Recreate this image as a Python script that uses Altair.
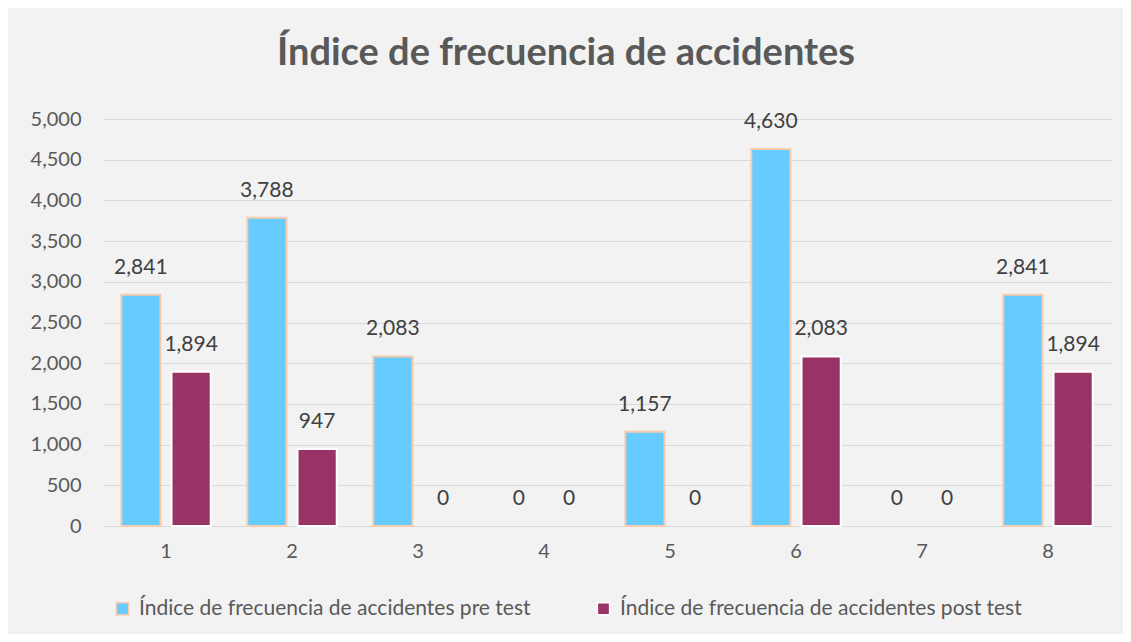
import altair as alt
import pandas as pd

categories = ["1", "2", "3", "4", "5", "6", "7", "8"]
pre_test = [2841, 3788, 2083, 0, 1157, 4630, 0, 2841]
post_test = [1894, 947, 0, 0, 0, 2083, 0, 1894]
series_names = ["Índice de frecuencia de accidentes pre test",
                "Índice de frecuencia de accidentes post test"]

rows = []
for c, a, b in zip(categories, pre_test, post_test):
    rows.append({"cat": c, "serie": series_names[0], "valor": a})
    rows.append({"cat": c, "serie": series_names[1], "valor": b})
df = pd.DataFrame(rows)

FONT = "Lato"
FS = 20
x = alt.X("cat:N", sort=categories, title=None,
          scale=alt.Scale(paddingInner=0.29, paddingOuter=0.145),
          axis=alt.Axis(labelAngle=0, labelFontSize=FS, labelColor="#595959",
                        labelFont=FONT, domainColor="#D9D9D9", ticks=False,
                        labelPadding=15, grid=False))
xoff = alt.XOffset("serie:N", sort=series_names,
                   scale=alt.Scale(paddingInner=0.22))
y = alt.Y("valor:Q", title=None,
          scale=alt.Scale(domain=[0, 5000]),
          axis=alt.Axis(values=list(range(0, 5001, 500)), format=",.0f",
                        labelFontSize=FS, labelColor="#595959", labelFont=FONT,
                        domain=False, ticks=False, labelPadding=22,
                        gridColor="#D9D9D9", gridWidth=1))
color = alt.Color("serie:N", sort=series_names,
                  scale=alt.Scale(domain=series_names, range=["#66CCFF", "#993366"]),
                  legend=alt.Legend(title=None, orient="none", direction="horizontal",
                                    legendX=9, legendY=479, symbolType="square",
                                    symbolSize=150, labelFontSize=21, labelFont=FONT,
                                    labelColor="#595959", columnPadding=62,
                                    labelOffset=6, symbolStrokeWidth=1.5,
                                    labelLimit=600))
stroke = alt.Stroke("serie:N", sort=series_names,
                    scale=alt.Scale(domain=series_names, range=["#F8CBAD", "#FFFFFF"]),
                    legend=None)

bars = alt.Chart(df).transform_filter("datum.valor > 0").mark_bar(strokeWidth=2).encode(
    x=x, xOffset=xoff, y=y, color=color, stroke=stroke)

labels = alt.Chart(df).mark_text(baseline="middle", dy=-27, fontSize=21,
                                 font=FONT, color="#404040").encode(
    x=x, xOffset=xoff, y=y, text=alt.Text("valor:Q", format=",.0f"))

chart = alt.layer(bars, labels).properties(
    width=1008, height=407,
    title=alt.TitleParams("Índice de frecuencia de accidentes", fontSize=38,
                          font=FONT, fontWeight="bold", color="#595959",
                          anchor="middle", offset=36, dx=-41),
    autosize=alt.AutoSizeParams(type="none"),
    padding={"left": 95, "top": 111, "right": 12, "bottom": 108},
    background="#F2F2F2",
).configure_view(stroke=None)

chart.save("out.html", embed_options={"renderer": "svg", "actions": False})
